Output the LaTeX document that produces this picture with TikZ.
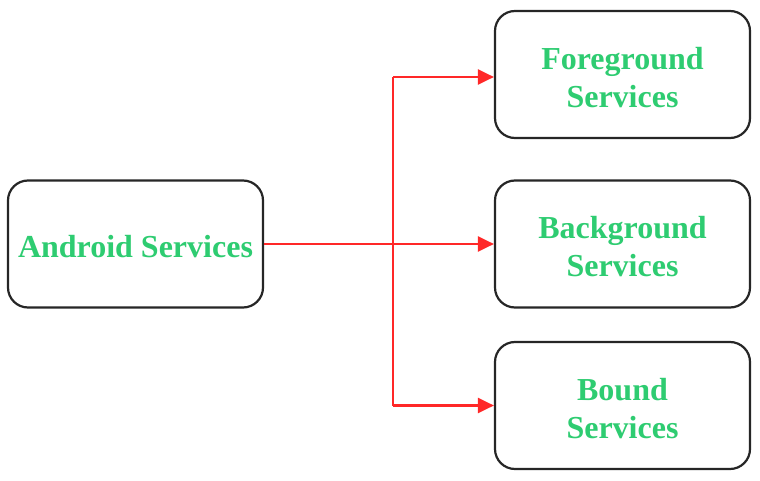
\documentclass[tikz,border=0pt]{standalone}
\usepackage{fontspec}
\setmainfont{Liberation Serif}[BoldFont={Liberation Serif Bold}]
\usetikzlibrary{arrows.meta}
\definecolor{txtgreen}{RGB}{46,204,113}
\definecolor{linered}{RGB}{255,40,40}
\tikzset{
  svcbox/.style={draw=black!85, line width=2.2pt, rounded corners=20pt, fill=white,
    minimum width=255pt, minimum height=127pt, inner sep=0pt},
  svctext/.style={align=center, font=\fontsize{32}{38}\selectfont\bfseries, text=txtgreen, inner sep=0pt},
  conn/.style={draw=linered, line width=2.2pt},
  arr/.style={conn, -{Triangle[length=16pt,width=15pt]}}
}
\begin{document}
\begin{tikzpicture}[x=1pt,y=-1pt]
\useasboundingbox (0,0) rectangle (760,481);
\node[svcbox] (android) at (135.5,244) {};
\node[svcbox] (fg) at (622.5,74.5) {};
\node[svcbox] (bg) at (622.5,244) {};
\node[svcbox] (bd) at (622.5,405.5) {};
\node[svctext] (androidt) at ([yshift=-3pt]android.center) {Android Services};
\node[svctext] (fgt) at ([yshift=-3pt]fg.center) {Foreground\\Services};
\node[svctext] (bgt) at ([yshift=-3pt]bg.center) {Background\\Services};
\node[svctext] (bdt) at ([yshift=-3pt]bd.center) {Bound\\Services};
\coordinate (top) at (393,77);
\coordinate (bot) at (393,405.5);
\draw[conn] (top) -- (bot);
\draw[arr] (android.east) -- (bg.west);
\draw[arr] (top) -- (top -| fg.west);
\draw[arr] (bot) -- (bd.west);
\end{tikzpicture}
\end{document}
